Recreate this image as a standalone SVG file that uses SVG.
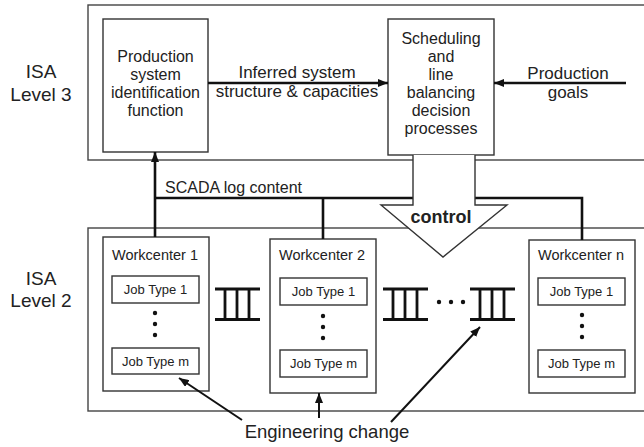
<svg xmlns="http://www.w3.org/2000/svg" width="644" height="447" viewBox="0 0 644 447">
  <style>
    text { font-family: "Liberation Sans", Arial, sans-serif; fill: #222; }
    .lvl { font-size: 19px; text-anchor: middle; }
    .box { font-size: 17px; text-anchor: middle; }
    .inbox { font-size: 16px; text-anchor: middle; }
    .wc { font-size: 14.5px; text-anchor: middle; }
    .job { font-size: 13px; text-anchor: middle; }
    .frame { fill: none; stroke: #444; stroke-width: 1.4; }
    .node { fill: #fff; stroke: #333; stroke-width: 1.4; }
    .conn { fill: none; stroke: #111; stroke-width: 2.6; }
    .thin { fill: none; stroke: #111; stroke-width: 2; }
    .queue { fill: none; stroke: #111; stroke-width: 2.8; }
    .dot { fill: #111; }
  </style>
  <defs>
    <marker id="head" markerUnits="userSpaceOnUse" markerWidth="10" markerHeight="8" refX="10" refY="4" orient="auto">
      <path d="M0,0 L10,4 L0,8 z" fill="#111"/>
    </marker>
  </defs>

  <rect width="644" height="447" fill="#fff"/>

  <!-- level frames -->
  <g id="level3">
    <rect class="frame" x="88" y="5" width="570" height="155"/>
    <text class="lvl" x="41" y="78">ISA<tspan x="41" y="101">Level 3</tspan></text>
  </g>
  <g id="level2">
    <rect class="frame" x="88" y="228" width="570" height="183"/>
    <text class="lvl" x="41" y="285">ISA<tspan x="41" y="307">Level 2</tspan></text>
  </g>

  <g id="identification">
    <rect class="node" x="103" y="19" width="105" height="133"/>
    <text class="inbox" x="155.5" y="61.5">Production<tspan x="155.5" y="79.5">system</tspan><tspan x="155.5" y="97.5">identification</tspan><tspan x="155.5" y="115.5">function</tspan></text>
  </g>

  <g id="scheduling">
    <rect class="node" x="388" y="19" width="106" height="136"/>
    <text class="inbox" x="441" y="43.5">Scheduling<tspan x="441" y="61.5">and</tspan><tspan x="441" y="79.5">line</tspan><tspan x="441" y="97.5">balancing</tspan><tspan x="441" y="115.5">decision</tspan><tspan x="441" y="133.5">processes</tspan></text>
  </g>

  <g id="goals">
    <text class="box" x="568" y="79">Production<tspan x="568" y="98">goals</tspan></text>
  </g>

  <g id="workcenter1">
    <rect class="node" x="103" y="237" width="106" height="154"/>
    <text class="wc" x="155" y="260">Workcenter 1</text>
    <rect class="node" x="112" y="276" width="87" height="27"/>
    <text class="job" x="155.5" y="294">Job Type 1</text>
    <circle class="dot" cx="155" cy="313" r="2.2"/>
    <circle class="dot" cx="155" cy="324" r="2.2"/>
    <circle class="dot" cx="155" cy="335" r="2.2"/>
    <rect class="node" x="112" y="348" width="87" height="26"/>
    <text class="job" x="155.5" y="366">Job Type m</text>
  </g>

  <g id="workcenter2">
    <rect class="node" x="270" y="239" width="106" height="154"/>
    <text class="wc" x="322" y="260">Workcenter 2</text>
    <rect class="node" x="280" y="278" width="87" height="27"/>
    <text class="job" x="323.5" y="296">Job Type 1</text>
    <circle class="dot" cx="323" cy="316" r="2.2"/>
    <circle class="dot" cx="323" cy="327" r="2.2"/>
    <circle class="dot" cx="323" cy="338" r="2.2"/>
    <rect class="node" x="280" y="350" width="87" height="27"/>
    <text class="job" x="323.5" y="368">Job Type m</text>
  </g>

  <g id="workcentern">
    <rect class="node" x="529" y="240" width="106" height="153"/>
    <text class="wc" x="581" y="260">Workcenter n</text>
    <rect class="node" x="538" y="278" width="87" height="27"/>
    <text class="job" x="581.5" y="296">Job Type 1</text>
    <circle class="dot" cx="582" cy="315" r="2.2"/>
    <circle class="dot" cx="582" cy="326" r="2.2"/>
    <circle class="dot" cx="582" cy="337" r="2.2"/>
    <rect class="node" x="538" y="350" width="87" height="27"/>
    <text class="job" x="581.5" y="368">Job Type m</text>
  </g>

  <!-- queues between workcenters -->
  <g id="queue1">
    <path class="queue" d="M215,289 H260 M215,319.5 H260 M225,289 V319.5 M237,289 V319.5 M249,289 V319.5"/>
  </g>
  <g id="queue2">
    <path class="queue" d="M383,289 H428 M383,319.5 H428 M393,289 V319.5 M405,289 V319.5 M417,289 V319.5"/>
  </g>
  <g id="ellipsis">
    <circle class="dot" cx="439" cy="302" r="2.2"/>
    <circle class="dot" cx="451" cy="302" r="2.2"/>
    <circle class="dot" cx="463" cy="302" r="2.2"/>
  </g>
  <g id="queue3">
    <path class="queue" d="M470,289 H515 M470,319.5 H515 M480,289 V319.5 M492,289 V319.5 M504,289 V319.5"/>
  </g>

  <!-- connectors -->
  <g id="connectors">
    <path class="conn" d="M208,83 H388" marker-end="url(#head)"/>
    <path class="conn" d="M626,83 H494" marker-end="url(#head)"/>
    <path class="conn" d="M155,237 V152" marker-end="url(#head)"/>
    <path class="conn" d="M155,198 H413 M323,198 V239 M475,198 H582 V240"/>
    <path class="thin" d="M242,420 L179,378" marker-end="url(#head)"/>
    <path class="thin" d="M319,418 V393" marker-end="url(#head)"/>
    <path class="thin" d="M391,422 L480,327" marker-end="url(#head)"/>
  </g>

  <text class="box" x="297" y="78">Inferred system<tspan x="297" y="97">structure &amp; capacities</tspan></text>
  <text x="165" y="193" style="font-size:16px">SCADA log content</text>

  <!-- control arrow, drawn over the bus and the frame edges -->
  <g id="control">
    <path d="M413,155 V205 H381 L443,257 L507,205 H475 V155" fill="#fff" stroke="#333" stroke-width="1.4"/>
    <text x="441" y="223" style="font-size:18px;font-weight:bold;text-anchor:middle">control</text>
  </g>

  <text x="327" y="438" style="font-size:18.5px;text-anchor:middle">Engineering change</text>
</svg>
